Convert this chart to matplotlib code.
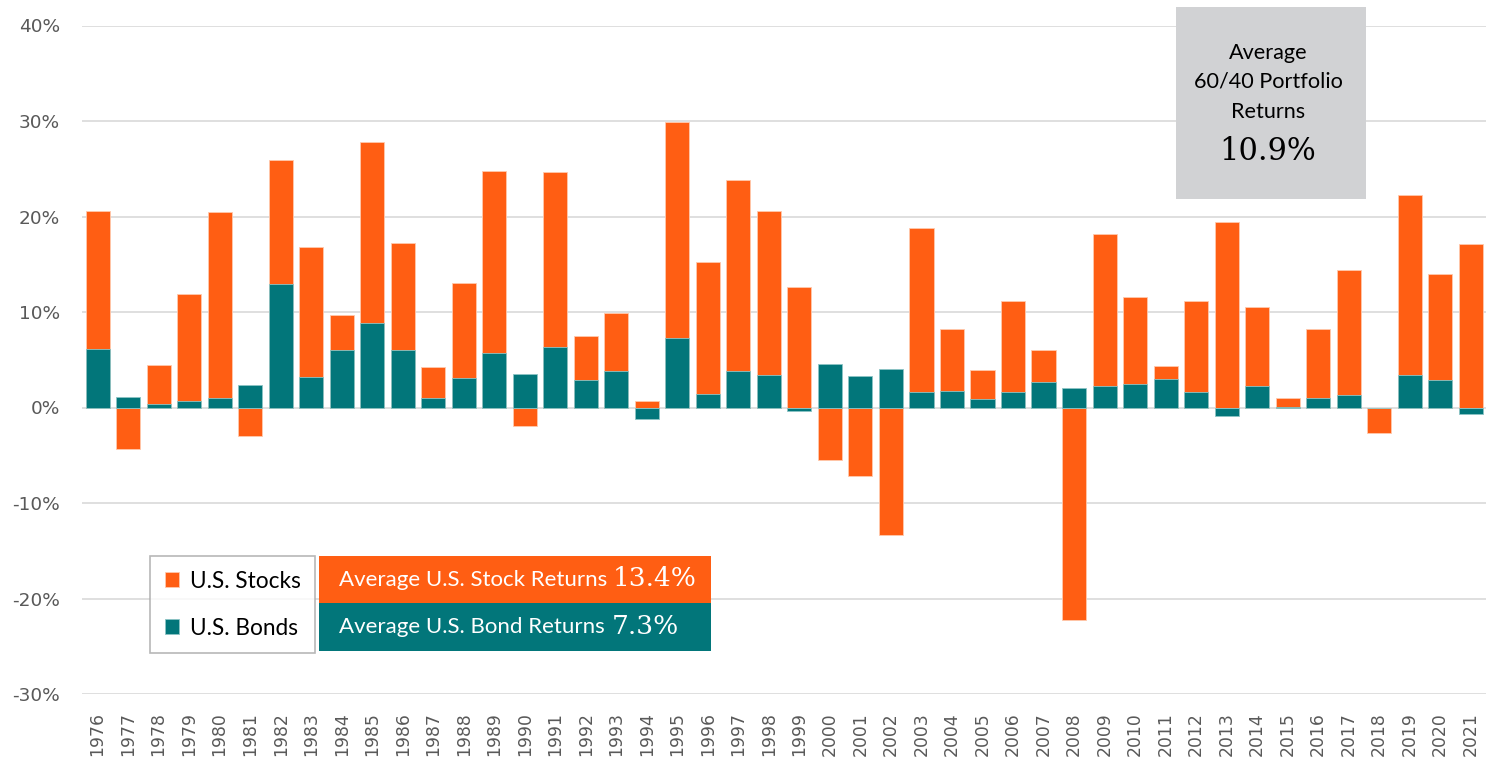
import matplotlib
matplotlib.use("Agg")
import matplotlib.pyplot as plt
from matplotlib.patches import Rectangle
from matplotlib.ticker import FuncFormatter

# calendar-year total returns, in percent
years = list(range(1976, 2022))
stocks = [20.6, -4.3, 4.4, 11.9, 20.5, -3.0, 25.9, 16.8, 9.7, 27.8,
          17.2, 4.2, 13.0, 24.8, -1.9, 24.7, 7.5, 9.9, 0.7, 29.9,
          15.2, 23.8, 20.6, 12.6, -5.5, -7.2, -13.4, 18.8, 8.2, 3.9,
          11.1, 6.0, -22.3, 18.2, 11.6, 4.3, 11.2, 19.4, 10.5, 1.0,
          8.2, 14.4, -2.7, 22.3, 14.0, 17.1]
bonds = [6.1, 1.1, 0.4, 0.7, 1.0, 2.4, 12.9, 3.2, 6.0, 8.8,
         6.0, 1.0, 3.1, 5.7, 3.5, 6.3, 2.9, 3.8, -1.2, 7.3,
         1.4, 3.8, 3.4, -0.4, 4.6, 3.3, 4.0, 1.6, 1.7, 0.9,
         1.6, 2.7, 2.0, 2.3, 2.5, 3.0, 1.6, -0.9, 2.3, 0.1,
         1.0, 1.3, 0.0, 3.4, 2.9, -0.7]

avg_stock = "13.4%"
avg_bond = "7.3%"
avg_6040 = "10.9%"

ORANGE = "#ff5e13"
TEAL = "#02767a"
GRID = "#d9d9d9"
TICK = "#595959"

plt.rcParams["font.family"] = ["Lato", "DejaVu Sans"]

W, H = 1486, 761
fig = plt.figure(figsize=(W / 100, H / 100), dpi=100)
ax = fig.add_axes([82 / W, 67 / H, 1 - 82 / W, (694 - 25.5) / H])

x = range(len(years))
ax.bar(x, stocks, width=0.79, color=ORANGE, edgecolor="#ffc9ad", linewidth=0.6,
       label="U.S. Stocks", zorder=2)
ax.bar(x, bonds, width=0.79, color=TEAL, edgecolor="#8cc4c5", linewidth=0.6,
       label="U.S. Bonds", zorder=3)

ax.set_xlim(-0.51, len(years) - 0.5)
ax.set_ylim(-30, 40)
ax.set_yticks(range(-30, 41, 10))
ax.yaxis.set_major_formatter(FuncFormatter(lambda v, p: f"{v:.0f}%"))
ax.set_xticks(list(x))
ax.set_xticklabels(years, rotation=90, family="DejaVu Sans", fontsize=12.4, color=TICK)
for lab in ax.get_yticklabels():
    lab.set_family("DejaVu Sans")
    lab.set_fontsize(13.3)
    lab.set_color(TICK)
ax.tick_params(axis="y", length=0, pad=16)
ax.tick_params(axis="x", length=0, pad=13)
ax.grid(axis="y", color=GRID, linewidth=1.2, zorder=0)
ax.set_axisbelow(True)
for s in ax.spines.values():
    s.set_visible(False)

# legend box
leg = ax.legend(loc="upper left", bbox_to_anchor=(150 / W, 1 - 556 / H),
                bbox_transform=fig.transFigure, fontsize=16.3, frameon=True,
                fancybox=False, handlelength=0.65, handleheight=0.65,
                handletextpad=0.45, labelspacing=1.15, borderpad=0.65,
                borderaxespad=0)
leg.get_frame().set_edgecolor("#a6a6a6")
leg.get_frame().set_linewidth(1.2)

def fig_rect(x0, y0, x1, y1, color):
    fig.add_artist(Rectangle((x0 / W, 1 - y1 / H), (x1 - x0) / W, (y1 - y0) / H,
                             transform=fig.transFigure, facecolor=color,
                             edgecolor="none", zorder=5))

# average banners
fig_rect(319, 556, 711, 602.5, ORANGE)
fig_rect(319, 602.5, 711, 651, TEAL)
fig.text(339 / W, 1 - 580 / H, "Average U.S. Stock Returns", color="white",
         fontsize=16, va="center", ha="left", zorder=6)
fig.text(697 / W, 1 - 579 / H, avg_stock, color="white", family="DejaVu Serif",
         fontsize=19, va="center", ha="right", zorder=6)
fig.text(339 / W, 1 - 627 / H, "Average U.S. Bond Returns", color="white",
         fontsize=16, va="center", ha="left", zorder=6)
fig.text(679 / W, 1 - 626 / H, avg_bond, color="white", family="DejaVu Serif",
         fontsize=19, va="center", ha="right", zorder=6)

# 60/40 box
fig_rect(1176, 7, 1366, 199, "#d1d2d4")
cx = 1268 / W
fig.text(cx, 1 - 53 / H, "Average", fontsize=15.6, ha="center", va="center", zorder=6)
fig.text(cx, 1 - 82 / H, "60/40 Portfolio", fontsize=15.6, ha="center", va="center", zorder=6)
fig.text(cx, 1 - 112 / H, "Returns", fontsize=15.6, ha="center", va="center", zorder=6)
fig.text(cx, 1 - 151 / H, avg_6040, family="DejaVu Serif", fontsize=22,
         ha="center", va="center", zorder=6)

fig.savefig("out.png", dpi=100)
